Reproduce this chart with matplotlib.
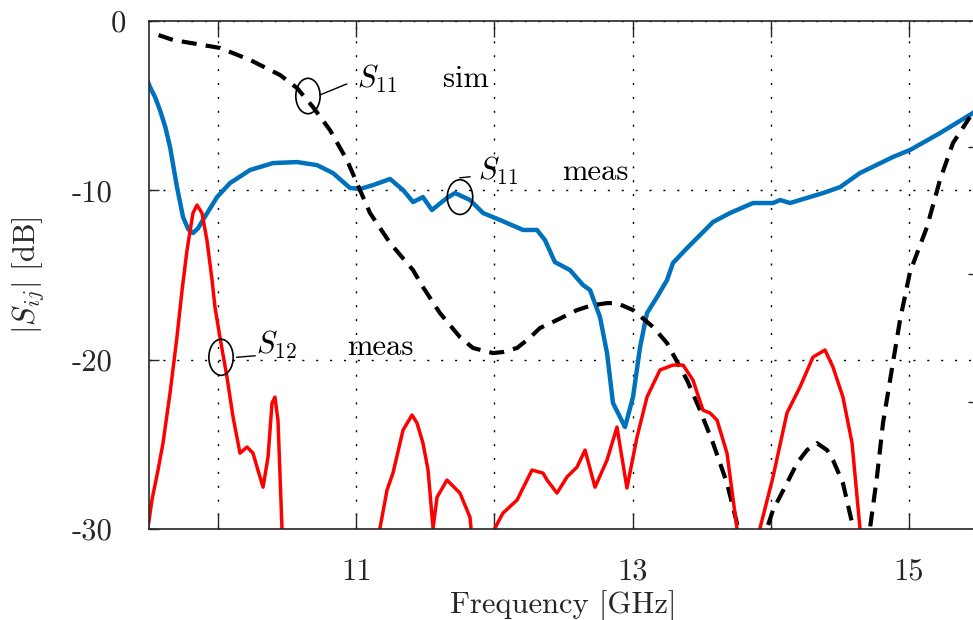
import matplotlib
matplotlib.use('Agg')
import matplotlib.pyplot as plt
from matplotlib.patches import Ellipse
import matplotlib.transforms as mtransforms

plt.rcParams['font.family'] = ['cmr10', 'DejaVu Serif']
plt.rcParams['mathtext.fontset'] = 'cm'
plt.rcParams['axes.formatter.use_mathtext'] = True

# ---------------- data ----------------
freq_s11_meas = [9.493, 9.508, 9.545, 9.580, 9.620, 9.653, 9.703, 9.747, 9.785, 9.819, 9.855, 9.891,
                 9.993, 10.087,
                 10.232, 10.398, 10.572, 10.716, 10.832, 10.955, 11.027, 11.122, 11.245, 11.339,
                 11.411, 11.483, 11.548, 11.657, 11.715, 11.823, 11.918, 12.040, 12.207, 12.308,
                 12.366, 12.438, 12.547, 12.641, 12.692, 12.764, 12.815, 12.858, 12.945, 13.003,
                 13.054, 13.104, 13.177, 13.249, 13.292, 13.394, 13.582, 13.705, 13.871, 14.016,
                 14.067, 14.139, 14.378, 14.501, 14.645, 14.884, 15.007, 15.224, 15.463]
s11_meas = [-3.60, -3.90, -4.50, -5.26, -6.30, -7.44, -9.80, -11.58, -12.30, -12.52, -12.25, -11.75,
            -10.40, -9.57,
            -8.80, -8.39, -8.33, -8.51, -8.98, -9.86, -9.92, -9.69, -9.33, -9.98,
            -10.69, -10.40, -11.16, -10.45, -10.16, -10.57, -11.34, -11.75, -12.34, -12.34,
            -12.94, -14.24, -14.71, -15.59, -15.89, -17.48, -19.61, -22.56, -23.98, -22.21,
            -19.26, -17.25, -16.30, -15.30, -14.29, -13.41, -11.87, -11.34, -10.75, -10.75,
            -10.57, -10.75, -10.16, -9.81, -8.98, -8.03, -7.62, -6.62, -5.43]

freq_s11_sim = [9.570, 9.674, 9.891, 10.014, 10.232, 10.449, 10.572, 10.687, 10.810, 10.933,
                11.005, 11.100, 11.245, 11.411, 11.483, 11.606, 11.751, 11.845, 11.990, 12.060,
                12.164, 12.250,
                12.330, 12.453, 12.598, 12.700, 12.815, 12.887, 13.003, 13.148, 13.249, 13.394, 13.488,
                13.582, 13.683, 13.755, 13.800, 13.860, 13.930, 13.973, 14.016, 14.117, 14.190,
                14.262, 14.334, 14.407, 14.450, 14.522, 14.595, 14.640, 14.690, 14.718, 14.768,
                14.812, 14.863, 14.935, 15.007, 15.130, 15.224, 15.318, 15.441]
s11_sim = [-0.83, -1.12, -1.42, -1.59, -2.30, -3.19, -3.96, -5.08, -6.44, -8.21,
           -9.57, -11.34, -13.11, -14.71, -15.71, -17.25, -18.67, -19.31, -19.61, -19.55,
           -19.31, -18.75,
           -18.13, -17.66, -17.07, -16.80, -16.66, -16.66, -17.07, -18.07, -19.02, -21.21, -22.98,
           -24.93, -27.29, -29.65, -33.0, -40.0, -33.0, -29.95, -28.88, -27.29, -26.11,
           -25.34, -24.93, -25.34, -25.93, -27.29, -29.89, -34.0, -34.0, -29.95, -26.93,
           -23.74, -21.21, -17.66, -14.83, -12.17, -9.39, -7.21, -5.67]

freq_s12_meas = [9.493, 9.522, 9.566, 9.602, 9.653, 9.703, 9.740, 9.776, 9.819, 9.848,
                 9.884, 9.920, 9.957, 9.978, 10.014, 10.065, 10.109, 10.159, 10.210, 10.253,
                 10.289, 10.326, 10.362, 10.391, 10.412, 10.434, 10.463, 10.480, 10.800, 11.160,
                 11.172, 11.223, 11.266, 11.339, 11.404, 11.440, 11.483, 11.520, 11.556, 11.585,
                 11.657, 11.751, 11.823, 11.831, 11.850, 11.950, 11.990, 12.004, 12.062, 12.164,
                 12.272, 12.352, 12.381, 12.453, 12.525, 12.598, 12.656, 12.728, 12.815, 12.887,
                 12.959, 13.032, 13.104, 13.198, 13.292, 13.365, 13.437, 13.509, 13.560, 13.611,
                 13.683, 13.755, 13.770, 13.840, 13.910, 13.922, 14.016, 14.117, 14.211, 14.305,
                 14.392, 14.450, 14.522, 14.588, 14.645, 14.660, 14.800]
s12_meas = [-29.95, -28.29, -26.52, -24.93, -21.97, -18.67, -15.89, -13.53, -11.34, -10.87,
            -11.34, -12.94, -15.30, -16.89, -18.67, -21.03, -23.39, -25.52, -25.16, -25.52,
            -26.52, -27.53, -25.75, -22.56, -22.21, -23.57, -29.95, -34.0, -45.0, -34.0,
            -29.95, -27.70, -26.70, -24.16, -23.27, -23.74, -24.93, -26.52, -29.95, -28.12,
            -27.11, -27.88, -29.30, -29.95, -34.0, -40.0, -34.0, -29.95, -29.06, -28.29,
            -26.52, -26.70, -27.11, -27.88, -26.93, -26.34, -25.34, -27.53, -25.93, -23.98,
            -27.58, -24.57, -22.21, -20.61, -20.32, -20.32, -21.21, -22.98, -23.15, -23.57,
            -25.52, -29.95, -34.0, -40.0, -34.0, -29.95, -26.93, -23.15, -21.62, -19.85,
            -19.43, -20.44, -22.21, -24.93, -29.95, -34.0, -45.0]

x_ticks = [10, 11, 12, 13, 14, 15]
x_tick_labels = ['', '11', '', '13', '', '15']
y_ticks = [0, -10, -20, -30]
y_tick_labels = ['0', '-10', '-20', '-30']
right_ticks = [-7.45, -14.95, -22.5]

# annotation ellipses: (x, y, width, height)
ellipses = [(10.651, -4.43, 0.176, 2.09),
            (11.751, -10.40, 0.184, 2.05),
            (10.022, -19.86, 0.176, 2.13)]
leader_x = [[10.737, 10.931], [11.751, 11.823], [10.135, 10.268]]
leader_y = [[-4.37, -3.72], [-9.26, -9.20], [-19.86, -19.77]]
labels = [(11.005, -3.40, r'$S_{11}$'), (11.881, -8.83, r'$S_{11}$'), (10.275, -19.14, r'$S_{12}$')]
kinds = [(11.628, -3.90, 'sim'), (12.489, -9.39, 'meas'), (10.931, -19.73, 'meas')]

# ---------------- figure ----------------
W, H = 973, 620
fig = plt.figure(figsize=(W / 100, H / 100), dpi=100)
ax = fig.add_axes([148.9 / W, 1 - 529 / H, (978.1 - 148.9) / W, (529 - 21) / H])
ax.set_xlim(9.5, 15.5)
ax.set_ylim(-30, 0)

ax.set_axisbelow(True)
ax.grid(True, color='k', lw=1.0, dashes=(1.5, 8.5))

ax.plot(freq_s11_meas, s11_meas, color='#0072BD', lw=3.2, solid_joinstyle='round')
ln, = ax.plot(freq_s11_sim, s11_sim, color='k', lw=3.0)
ln.set_dashes([3.6, 2.2])
ax.plot(freq_s12_meas, s12_meas, color='#FF0000', lw=2.5, solid_joinstyle='round')

for (ex, ey, ew, eh), lx, ly in zip(ellipses, leader_x, leader_y):
    ax.add_patch(Ellipse((ex, ey), ew, eh, fill=False, ec='k', lw=1.2, zorder=5))
    ax.plot(lx, ly, color='k', lw=1.0, zorder=5)
for tx, ty, s in labels:
    ax.text(tx, ty, s, fontsize=22, ha='left', va='center', color='k')
for tx, ty, s in kinds:
    ax.text(tx, ty, s, fontsize=22, ha='left', va='baseline', color='k')

spine_c = '#262626'
for side in ['left', 'top', 'bottom']:
    ax.spines[side].set_color(spine_c)
    ax.spines[side].set_linewidth(1.2)
ax.spines['right'].set_visible(False)

ax.set_xticks(x_ticks)
ax.set_xticklabels(x_tick_labels)
ax.set_yticks(y_ticks)
ax.set_yticklabels(y_tick_labels)
ax.tick_params(axis='x', direction='in', length=11.5, width=1.0, top=True, bottom=True,
               color=spine_c, labelcolor='#262626', labelsize=22, pad=21)
ax.tick_params(axis='y', direction='in', length=7, width=1.0, left=True, right=False,
               color=spine_c, labelcolor='#262626', labelsize=22, pad=26)

# the "0" label sits further right in the reference
for lab in ax.get_yticklabels():
    if lab.get_text() == '0':
        lab.set_transform(lab.get_transform() +
                          mtransforms.ScaledTranslation(13 / 100, 0, fig.dpi_scale_trans))

ax2 = ax.twinx()
ax2.set_ylim(ax.get_ylim())
ax2.set_yticks(right_ticks)
ax2.set_yticklabels([])
ax2.tick_params(axis='y', direction='in', length=7, width=1.0, color=spine_c)
for s in ax2.spines.values():
    s.set_visible(False)

ax.set_xlabel('Frequency [GHz]', fontsize=22, color='#262626', labelpad=3)
ax.set_ylabel(r'$|S_{ij}|$ [dB]', fontsize=22, color='#262626')
ax.yaxis.set_label_coords((46 - 148.9) / 829.2, 0.5)

fig.savefig('out.png', dpi=100)
